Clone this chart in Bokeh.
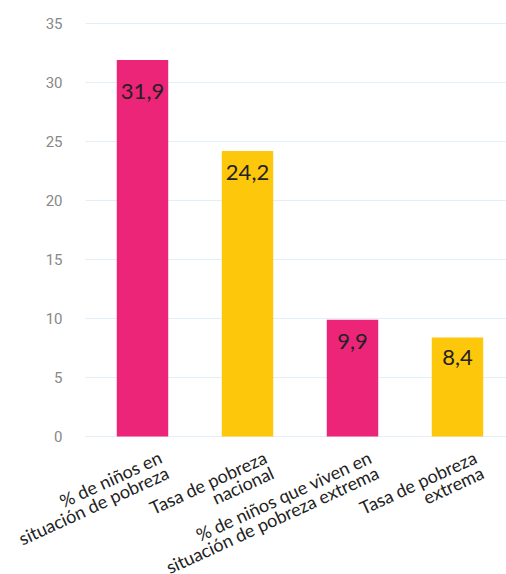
import math
from bokeh.plotting import figure
from bokeh.models import ColumnDataSource, Range1d
from bokeh.core.properties import value
from bokeh.embed import file_html
from bokeh.resources import INLINE

categories = [
    "% de niños en\nsituación de pobreza",
    "Tasa de pobreza\nnacional",
    "% de niños que viven en\nsituación de pobreza extrema",
    "Tasa de pobreza\nextrema",
]
values = [31.9, 24.2, 9.9, 8.4]
value_labels = ["31,9", "24,2", "9,9", "8,4"]
colors = ["#EC2579", "#FDC70C", "#EC2579", "#FDC70C"]
y_ticks = [0, 5, 10, 15, 20, 25, 30, 35]
y_tick_labels = [str(t) for t in y_ticks]

# ---- layout (pixels) ----
W, H = 506, 574
first_center_px = 142      # centre of first category
cat_step_px = 105          # distance between category centres
zero_px = 436              # pixel row of y = 0 (from top)
px_per_unit = 11.8         # vertical pixels per y unit
grid_left_px = 85
tick_label_right_px = 62
label_offsets = [24, 14, 14, 13]   # value label distance below bar top

xs = list(range(len(categories)))
x_start = -first_center_px / cat_step_px
x_end = (W - first_center_px) / cat_step_px
y_start = -(H - zero_px) / px_per_unit
y_end = zero_px / px_per_unit

src = ColumnDataSource(dict(x=xs, val=values, lab=value_labels,
                            col=colors, off=label_offsets))

p = figure(
    x_range=Range1d(x_start, x_end), y_range=Range1d(y_start, y_end),
    width=W, height=H, output_backend="svg", toolbar_location=None,
    x_axis_location=None, y_axis_location=None,
    min_border_left=0, min_border_right=0, min_border_top=0, min_border_bottom=0,
)
p.background_fill_color = "white"
p.border_fill_color = "white"
p.outline_line_color = None
p.xgrid.grid_line_color = None
p.ygrid.grid_line_color = None

# horizontal grid lines at the y ticks
p.segment(x0=x_start + grid_left_px / cat_step_px, x1=x_end,
          y0=y_ticks, y1=y_ticks, line_color="#e2eef8", line_width=1)

# y tick labels
p.text(x=x_start, y=y_ticks, text=y_tick_labels, x_offset=tick_label_right_px,
       text_align="right", text_baseline="middle", text_font=value("Roboto"),
       text_font_size="15px", text_color="#888888")

# bars and value labels
p.vbar(x="x", top="val", width=0.49, color="col", source=src, line_color=None)
p.text(x="x", y="val", text="lab", source=src, text_align="center",
       text_baseline="top", y_offset="off", text_font_size="22px",
       text_color="#222222", text_font=value("Lato"))

# rotated, right-aligned two-line category labels
angle = 0.43
line_gap = 17
first_lines = [c.split("\n")[0] for c in categories]
second_lines = [c.split("\n")[1] for c in categories]
base_dx, base_dy = 25, 35
for txt, k in ((second_lines, 0), (first_lines, -1)):
    dx = base_dx + k * line_gap * math.sin(angle)
    dy = base_dy + k * line_gap * math.cos(angle)
    p.text(x=xs, y=[0] * len(xs), text=txt, angle=angle,
           x_offset=dx, y_offset=dy, text_align="right",
           text_baseline="alphabetic", text_font=value("Lato"),
           text_font_size="18px", text_color="#222222")

open("out.html", "w").write(file_html(p, INLINE))
